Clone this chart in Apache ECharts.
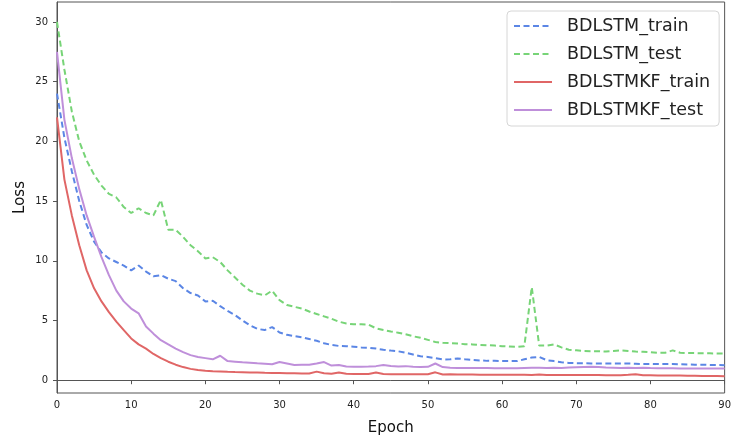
<!DOCTYPE html>
<html>
<head>
<meta charset="utf-8">
<script src="https://cdn.jsdelivr.net/npm/echarts@6/dist/echarts.min.js"></script>
<style>html,body{margin:0;padding:0;background:#fff}#c{width:734px;height:442px}</style>
</head>
<body>
<div id="c"></div>
<script>
var epochs = [];
for (var i = 0; i <= 90; i++) epochs.push(i);

var xTicks = [0, 10, 20, 30, 40, 50, 60, 70, 80, 90];
var yTicks = [0, 5, 10, 15, 20, 25, 30];

var bdlstmTrain = [24.0,20.3,17.5,15.0,13.0,11.6,10.7,10.2,9.9,9.6,
9.2,9.6,9.1,8.7,8.8,8.5,8.3,7.7,7.3,7.1,
6.6,6.65,6.2,5.8,5.45,5.0,4.6,4.3,4.2,4.45,
4.0,3.8,3.7,3.6,3.45,3.3,3.1,2.95,2.87,2.85,
2.8,2.75,2.72,2.65,2.55,2.48,2.42,2.3,2.15,2.0,
1.95,1.85,1.74,1.75,1.82,1.75,1.7,1.66,1.62,1.62,
1.6,1.6,1.6,1.75,1.9,1.95,1.68,1.6,1.5,1.45,
1.43,1.42,1.4,1.4,1.4,1.4,1.4,1.4,1.38,1.36,
1.36,1.35,1.35,1.36,1.33,1.32,1.3,1.3,1.28,1.27,1.26];

var bdlstmTest = [30.0,26.0,22.5,20.0,18.4,17.2,16.3,15.6,15.3,14.5,
14.0,14.4,14.0,13.8,15.1,12.6,12.6,12.0,11.3,10.8,
10.2,10.3,9.9,9.2,8.6,8.0,7.5,7.25,7.1,7.5,
6.7,6.3,6.15,6.0,5.75,5.55,5.35,5.15,4.9,4.75,
4.68,4.68,4.65,4.35,4.2,4.08,3.98,3.85,3.68,3.55,
3.38,3.2,3.13,3.1,3.07,3.02,3.0,2.95,2.93,2.9,
2.85,2.82,2.79,2.85,7.8,2.9,2.9,3.0,2.75,2.55,
2.5,2.45,2.43,2.42,2.4,2.45,2.5,2.45,2.4,2.38,
2.35,2.3,2.3,2.5,2.3,2.28,2.27,2.26,2.25,2.24,2.24];

var bdlstmkfTrain = [22.0,16.8,13.8,11.3,9.2,7.7,6.6,5.7,4.9,4.2,
3.5,3.0,2.65,2.2,1.85,1.55,1.3,1.1,0.95,0.85,
0.8,0.76,0.73,0.7,0.68,0.67,0.65,0.64,0.62,0.61,
0.6,0.58,0.58,0.57,0.56,0.72,0.58,0.55,0.65,0.55,
0.53,0.53,0.52,0.64,0.52,0.5,0.5,0.5,0.5,0.5,
0.5,0.66,0.48,0.5,0.47,0.47,0.47,0.46,0.46,0.46,
0.45,0.45,0.45,0.45,0.44,0.48,0.44,0.44,0.44,0.43,
0.43,0.43,0.43,0.43,0.42,0.42,0.42,0.45,0.5,0.42,
0.41,0.4,0.4,0.4,0.39,0.38,0.37,0.36,0.35,0.35,0.34];

var bdlstmkfTest = [27.5,21.8,18.6,16.0,13.8,12.0,10.3,8.8,7.5,6.6,
6.0,5.6,4.5,3.9,3.35,3.0,2.65,2.35,2.1,1.95,
1.85,1.75,2.05,1.6,1.55,1.5,1.47,1.42,1.38,1.34,
1.52,1.4,1.28,1.3,1.3,1.4,1.52,1.23,1.28,1.15,
1.13,1.12,1.14,1.18,1.28,1.2,1.15,1.18,1.12,1.1,
1.12,1.4,1.1,1.05,1.03,1.03,1.02,1.02,1.02,1.0,
1.0,1.0,1.0,1.02,1.04,1.05,1.03,1.05,1.02,1.06,
1.08,1.1,1.12,1.1,1.06,1.05,1.02,1.04,1.02,1.05,
1.02,1.0,1.0,1.0,0.99,0.99,0.98,0.98,0.98,0.98,0.98];

function pairs(arr) { return arr.map(function (v, i) { return [epochs[i], v]; }); }

var FONT = 'DejaVu Sans';
var chart = echarts.init(document.getElementById('c'), null, { renderer: 'canvas' });
chart.setOption({
  animation: false,
  backgroundColor: '#fff',
  grid: { left: 57, right: 4, top: 2, bottom: 49, show: true, borderColor: '#555', borderWidth: 1, backgroundColor: 'transparent' },
  legend: {
    orient: 'vertical', left: 507, top: 11,
    padding: [6, 9, 7, 6], itemGap: 10, itemWidth: 38, itemHeight: 14,
    borderColor: '#d6d6d6', borderWidth: 1, borderRadius: 4, backgroundColor: 'rgba(255,255,255,0.8)',
    itemStyle: { opacity: 0 },
    textStyle: { fontFamily: FONT, fontSize: 17.5, color: '#222', padding: [0, 0, 0, 10] },
    data: ['BDLSTM_train', 'BDLSTM_test', 'BDLSTMKF_train', 'BDLSTMKF_test']
  },
  xAxis: {
    type: 'value', min: 0, max: 90, interval: 10,
    name: 'Epoch', nameLocation: 'middle', nameGap: 28, nameMoveOverlap: false,
    nameTextStyle: { fontFamily: FONT, fontSize: 15, color: '#111' },
    axisLine: { show: true, lineStyle: { color: '#555', width: 1 } },
    axisTick: { show: true, length: 4, lineStyle: { color: '#555' } },
    axisLabel: { fontFamily: FONT, fontSize: 10, color: '#222', margin: 7, customValues: xTicks },
    splitLine: { show: false }
  },
  yAxis: {
    type: 'value', min: -1.07, max: 31.67,
    name: 'Loss', nameLocation: 'middle', nameGap: 29, nameRotate: 90, nameMoveOverlap: false,
    nameTextStyle: { fontFamily: FONT, fontSize: 15, color: '#111' },
    axisLine: { show: true, lineStyle: { color: '#555', width: 1 } },
    axisTick: { show: true, length: 4, lineStyle: { color: '#555' }, customValues: yTicks },
    axisLabel: { fontFamily: FONT, fontSize: 10, color: '#222', margin: 9, customValues: yTicks },
    splitLine: { show: false }
  },
  series: [
    { name: 'BDLSTM_train', type: 'line', data: pairs(bdlstmTrain), showSymbol: false, symbol: 'none',
      lineStyle: { color: '#5b86e5', width: 2, type: [6, 3.5] }, itemStyle: { color: '#5b86e5' } },
    { name: 'BDLSTM_test', type: 'line', data: pairs(bdlstmTest), showSymbol: false, symbol: 'none',
      lineStyle: { color: '#77d477', width: 2, type: [6, 3.5] }, itemStyle: { color: '#77d477' } },
    { name: 'BDLSTMKF_train', type: 'line', data: pairs(bdlstmkfTrain), showSymbol: false, symbol: 'none',
      lineStyle: { color: '#e06666', width: 2 }, itemStyle: { color: '#e06666' } },
    { name: 'BDLSTMKF_test', type: 'line', data: pairs(bdlstmkfTest), showSymbol: false, symbol: 'none',
      lineStyle: { color: '#bf8fda', width: 2 }, itemStyle: { color: '#bf8fda' } }
  ]
});
</script>
</body>
</html>
